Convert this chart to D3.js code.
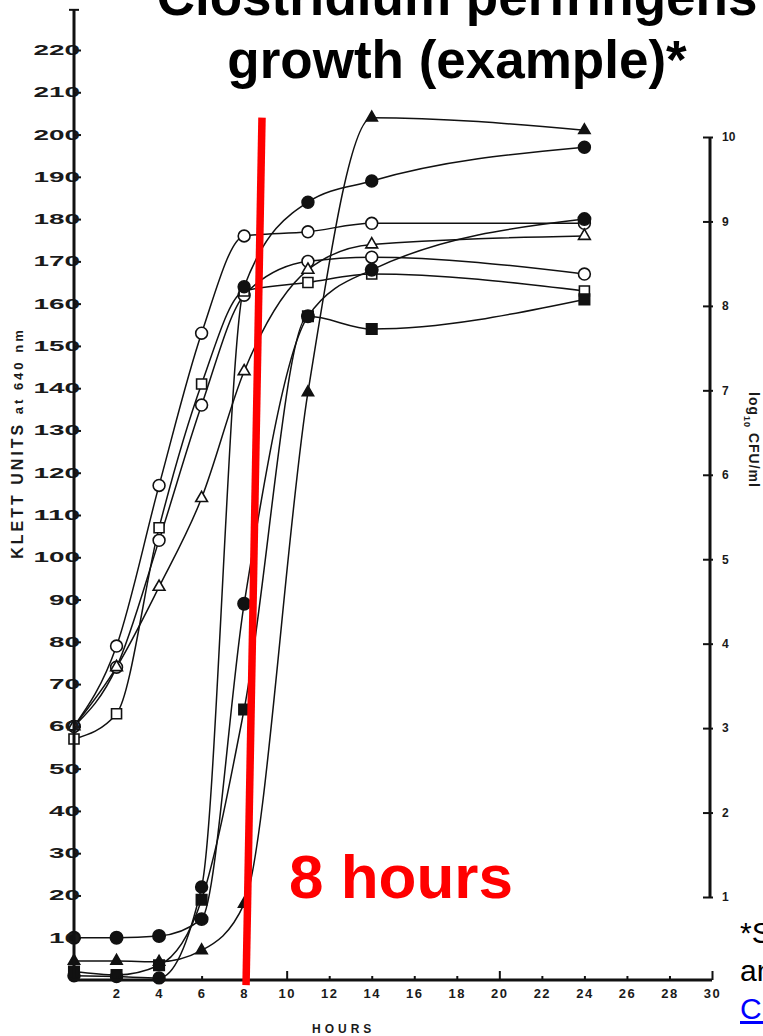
<!DOCTYPE html>
<html>
<head>
<meta charset="utf-8">
<script src="https://cdn.jsdelivr.net/npm/d3@7"></script>
<style>
  html, body { margin: 0; padding: 0; background: #fff; overflow: hidden; }
  svg { display: block; }
  text { font-family: "Liberation Sans", Arial, Helvetica, sans-serif; }
</style>
</head>
<body>
<svg id="chart" width="763" height="1036"></svg>
<script>
// sampling times (hours), shared by every culture
const hours = [0, 2, 4, 6, 8, 11, 14, 24];

// Klett units at 640 nm
const openCircleA = [60, 79, 117, 153, 176, 177, 179, 179];
const openCircleB = [60, 74, 104, 136, 162, 170, 171, 167];
const openTriangle = [60, 74, 93, 114, 144, 168, 174, 176];
const openSquare = [57, 63, 107, 141, 163, 165, 167, 163];
const filledCircleA = [1, 0.8, 0.5, 22, 164, 184, 189, 197];
const filledTriangle = [4.5, 4.5, 4.3, 7, 18, 139, 204, 201];
const filledCircleB = [10, 10, 10.4, 14.4, 89, 157, 168, 180];
const filledSquare = [2, 1.2, 3.5, 19, 64, 157, 154, 161];

const klettTicks = d3.range(10, 230, 10);
const hourTicks = d3.range(2, 32, 2);
const cfuTicks = d3.range(1, 11);

// red "8 hours" marker: [hours, klett] at bottom and top
const markerHours = [8.09, 8.84];
const markerKlett = [-1.2, 204];

const titleLines = ["Clostridium perfringens", "growth (example)*"];
const footnoteLines = ["*Source: adapted from", "and Duncan", "CDC"];

const svg = d3.select("#chart");

// Scales
const x = d3.scaleLinear().domain([0, 30]).range([74, 712]);
const y = d3.scaleLinear().domain([0, 220]).range([980, 50]);
const yR = d3.scaleLinear().domain([1, 10]).range([897, 137]);

const ink = "#111";

// series table built from the arrays above
const series = [
  { values: openCircleA, symbol: d3.symbolCircle, size: 110, filled: false },
  { values: openCircleB, symbol: d3.symbolCircle, size: 110, filled: false },
  { values: openTriangle, symbol: d3.symbolTriangle, size: 60, filled: false },
  { values: openSquare, symbol: d3.symbolSquare, size: 100, filled: false },
  { values: filledCircleA, symbol: d3.symbolCircle, size: 110, filled: true },
  { values: filledTriangle, symbol: d3.symbolTriangle, size: 55, filled: true },
  { values: filledCircleB, symbol: d3.symbolCircle, size: 120, filled: true },
  { values: filledSquare, symbol: d3.symbolSquare, size: 110, filled: true },
];

const line = d3
  .line()
  .x((d) => x(d[0]))
  .y((d) => y(d[1]))
  .curve(d3.curveMonotoneX);

// Curves
svg
  .append("g")
  .selectAll("path")
  .data(series)
  .join("path")
  .attr("d", (s) => line(hours.map((h, i) => [h, s.values[i]])))
  .attr("fill", "none")
  .attr("stroke", ink)
  .attr("stroke-width", 1.5);

// Markers
series.forEach((s) => {
  svg
    .append("g")
    .selectAll("path")
    .data(hours.map((h, i) => [h, s.values[i]]))
    .join("path")
    .attr("transform", (d) => `translate(${x(d[0])},${y(d[1])})`)
    .attr("d", d3.symbol().type(s.symbol).size(s.size))
    .attr("fill", s.filled ? ink : "#fff")
    .attr("stroke", ink)
    .attr("stroke-width", 1.6);
});

// Left axis
const gy = svg
  .append("g")
  .attr("transform", `translate(${x(0)},0)`)
  .call(
    d3.axisLeft(y).tickValues(klettTicks).tickSize(-7).tickPadding(-6)
  );
gy.select(".domain").remove();
gy.selectAll(".tick line").attr("stroke", ink).attr("stroke-width", 2);
gy.selectAll(".tick text")
  .attr("font-size", 14)
  .attr("font-weight", "bold")
  .attr("fill", "#1a1a1a")
  .attr("textLength", (d) => String(d).length * 15.5)
  .attr("lengthAdjust", "spacingAndGlyphs");
gy.append("line")
  .attr("y1", y(0) + 2)
  .attr("y2", y(229.5))
  .attr("stroke", ink)
  .attr("stroke-width", 3);
gy.append("line")
  .attr("x1", -5)
  .attr("x2", 5)
  .attr("y1", y(229.5))
  .attr("y2", y(229.5))
  .attr("stroke", ink)
  .attr("stroke-width", 2);

// Bottom axis
const gx = svg
  .append("g")
  .attr("transform", `translate(0,${y(0)})`)
  .call(d3.axisBottom(x).tickValues(hourTicks).tickSize(-4).tickPadding(9));
gx.select(".domain").remove();
gx.selectAll(".tick line").attr("stroke", ink).attr("stroke-width", 2);
gx.selectAll(".tick")
  .filter((d) => d % 10 === 0)
  .select("line")
  .attr("y2", -9);
gx.selectAll(".tick text")
  .attr("font-size", 13)
  .attr("font-weight", "bold")
  .attr("fill", "#1a1a1a")
  .attr("letter-spacing", 1.5);
gx.append("line")
  .attr("x1", x(0) - 2)
  .attr("x2", x(30))
  .attr("stroke", ink)
  .attr("stroke-width", 3);

// Right axis (log10 CFU/ml)
const gr = svg
  .append("g")
  .attr("transform", "translate(710,0)")
  .call(d3.axisRight(yR).tickValues(cfuTicks).tickSize(0).tickPadding(12));
gr.select(".domain").remove();
gr.selectAll(".tick")
  .append("line")
  .attr("x1", -7)
  .attr("x2", 3)
  .attr("stroke", ink)
  .attr("stroke-width", 2);
gr.selectAll(".tick text")
  .attr("font-size", 12)
  .attr("font-weight", "bold")
  .attr("fill", "#1a1a1a");
gr.append("line")
  .attr("y1", yR(1))
  .attr("y2", yR(10))
  .attr("stroke", ink)
  .attr("stroke-width", 3);

// Axis titles
svg
  .append("text")
  .attr("transform", "translate(23,443) rotate(-90)")
  .attr("text-anchor", "middle")
  .attr("font-size", 16)
  .attr("font-weight", "bold")
  .attr("fill", "#1a1a1a")
  .attr("letter-spacing", 3)
  .text("KLETT  UNITS ")
  .append("tspan")
  .attr("font-size", 13)
  .text("at 640 nm");

svg
  .append("text")
  .attr("transform", "translate(749,440) rotate(90)")
  .attr("text-anchor", "middle")
  .attr("font-size", 14)
  .attr("font-weight", "bold")
  .attr("fill", "#1a1a1a")
  .attr("letter-spacing", 1)
  .text("log")
  .append("tspan")
  .attr("font-size", 9)
  .attr("dy", 5)
  .text("10")
  .append("tspan")
  .attr("font-size", 14)
  .attr("dy", -5)
  .text("  CFU/ml");

svg
  .append("text")
  .attr("x", 312)
  .attr("y", 1033)
  .attr("font-size", 12)
  .attr("font-weight", "bold")
  .attr("fill", "#1a1a1a")
  .attr("letter-spacing", 4)
  .text("HOURS");

// Red "8 hours" marker
svg
  .append("path")
  .attr(
    "d",
    d3.line()(markerHours.map((h, i) => [x(h), y(markerKlett[i])]))
  )
  .attr("stroke", "#ff0000")
  .attr("stroke-width", 7.5)
  .attr("fill", "none");

svg
  .append("text")
  .attr("x", 289)
  .attr("y", 898)
  .attr("font-size", 62)
  .attr("font-weight", "bold")
  .attr("fill", "#ff0000")
  .text("8 hours");

// Title
svg
  .append("g")
  .selectAll("text")
  .data(titleLines)
  .join("text")
  .attr("x", 457)
  .attr("y", (d, i) => 15 + i * 63)
  .attr("text-anchor", "middle")
  .attr("font-size", 53)
  .attr("font-weight", "bold")
  .attr("fill", "#000")
  .text((d) => d);

// Footnote (runs off the right edge)
svg
  .append("g")
  .selectAll("text")
  .data(footnoteLines)
  .join("text")
  .attr("x", 740)
  .attr("y", (d, i) => 943 + i * 38)
  .attr("font-size", 30)
  .attr("fill", (d, i) => (i === 2 ? "#0000ff" : "#000"))
  .attr("text-decoration", (d, i) => (i === 2 ? "underline" : null))
  .text((d) => d);
</script>
</body>
</html>
